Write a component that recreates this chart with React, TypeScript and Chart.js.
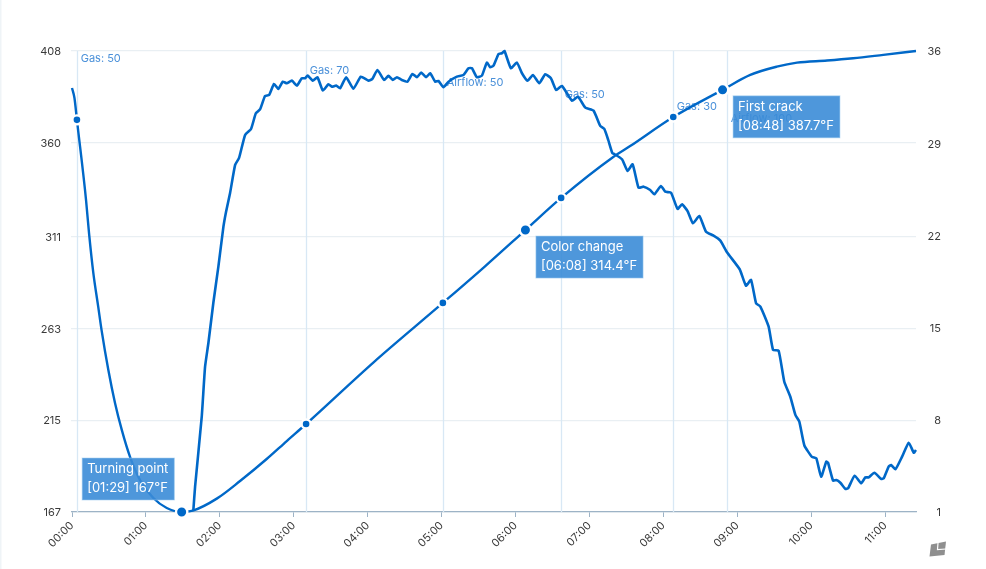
import React, { useEffect, useRef } from "react";
import { Chart, registerables } from "chart.js";

Chart.register(...registerables);

const FONT = "Inter";

const tempSeconds = [0, 2, 4, 11.4, 13.8, 17.3, 21.3, 24, 29.5, 34.9, 40.4, 47.1, 55.2, 66, 76.9, 89, 98, 117.5, 136.4, 158, 174.3, 190, 245, 301, 335, 368, 397, 439.3, 453, 488, 528, 550.5, 572, 588.4, 612.8, 634, 658.5, 685];
const tempValues = [388.7, 383.4, 372, 330.1, 312.9, 292, 274.2, 262.1, 241.2, 224, 209.9, 195.8, 183.7, 174.3, 169.1, 167, 167.7, 174, 183.2, 194.7, 204.1, 213, 245.4, 276.3, 295.3, 314.4, 331.2, 352.6, 358.3, 373.5, 387.7, 395.5, 399.8, 401.9, 403, 404.2, 406, 408];

const rorSeconds = [98.5, 99.9, 105.3, 108, 110.7, 114.7, 118.8, 122.9, 125, 128.3, 132.4, 135.6, 140.5, 145.3, 149.2, 152.7, 156.7, 160, 164, 167.5, 171.1, 174.3, 178.4, 182.5, 186.5, 189.2, 191.2, 195.4, 199.2, 203.6, 208.1, 210.9, 214.4, 217.6, 222.5, 228.4, 234.4, 240.6, 243.8, 247.9, 253.3, 256.8, 260.4, 263.7, 267.7, 272.3, 276.3, 279.9, 283.4, 287.4, 290.7, 294.8, 297.4, 301.5, 305.6, 312.4, 317.7, 321.8, 324.6, 328.6, 332.7, 336.7, 339.4, 342.1, 346.2, 348.9, 351, 356.2, 361.1, 365.2, 369.7, 374.1, 379.2, 384.1, 388.7, 393, 397.6, 405.8, 410.6, 416.6, 423.3, 428.7, 432, 435.2, 438.5, 440.1, 446.4, 450.9, 455, 459.8, 463.9, 469.3, 472.6, 478, 481.5, 486.2, 491.5, 495.1, 499.6, 504, 509.1, 514.6, 520.7, 526.2, 531.6, 541.9, 547, 551.1, 555.2, 558.7, 565.4, 569, 573.5, 578.1, 583, 587.1, 590.3, 594.4, 600.6, 604.1, 608, 612.2, 613.6, 617.7, 620.4, 623.6, 627.7, 629.9, 635.2, 640.4, 643.9, 646.6, 651.2, 656.7, 658.8, 662.8, 664.8, 668.3, 673.7, 679.1, 683.2, 685];
const rorValues = [1.15, 2.92, 8.24, 12.03, 13.83, 16.87, 19.63, 22.66, 23.78, 25.22, 27.35, 27.88, 29.63, 30.08, 31.27, 31.58, 32.59, 32.66, 33.5, 33.12, 33.67, 33.55, 33.75, 33.37, 33.93, 33.93, 34.14, 33.75, 34.01, 33, 33.48, 33.29, 33.37, 33.17, 34.01, 33.14, 34.05, 33.75, 33.88, 34.56, 33.8, 34.11, 33.8, 34.01, 33.8, 33.67, 34.26, 34.01, 34.36, 34.01, 34.31, 33.67, 33.73, 33.25, 33.67, 34.05, 34.18, 34.69, 34.69, 34.01, 34.13, 35.12, 34.77, 34.89, 35.78, 35.83, 36, 34.69, 35.12, 34.31, 33.75, 34.18, 33.55, 34.23, 33.93, 33.04, 33.35, 32.23, 32.53, 31.7, 31.47, 30.31, 30.08, 29.25, 28.26, 28.18, 27.78, 26.89, 27.4, 25.62, 25.7, 25.45, 25.12, 25.75, 25.32, 25.24, 24.01, 24.36, 23.85, 22.92, 23.48, 22.28, 21.98, 21.6, 20.72, 19.43, 18.18, 18.62, 16.85, 16.6, 15.07, 13.3, 13.25, 10.89, 9.75, 8.37, 7.86, 6.05, 5.18, 5.08, 3.68, 4.82, 4.74, 3.38, 3.43, 3.22, 2.75, 2.8, 3.76, 3.18, 3.63, 3.63, 3.98, 3.51, 3.56, 4.44, 4.57, 4.24, 5.2, 6.26, 5.5, 5.71];

const tempTicks = [167, 215, 263, 311, 360, 408];
const rorTicks = [1, 8, 15, 22, 29, 36];
const timeTicks = [0, 60, 120, 180, 240, 300, 360, 420, 480, 540, 600, 660];

const eventSeconds = [4, 190, 301, 397, 488, 531.2];
const eventLabels = ["Gas: 50", "Gas: 70", "Airflow: 50", "Gas: 50", "Gas: 30", "Airflow: 100"];

const smallMarkSeconds = [4, 190, 301, 397, 488];
const noteSeconds = [89, 368, 528];
const noteTemps = [167, 314.4, 387.7];
const noteTitles = ["Turning point", "Color change", "First crack"];
const noteDetails = ["[01:29] 167°F", "[06:08] 314.4°F", "[08:48] 387.7°F"];

const LINE = "#0068c8";
const LABEL = "#4a90d9";
const TICK = "#3a3a3a";

const fmt = (s: number) => {
  const m = Math.floor(s / 60);
  const r = Math.round(s % 60);
  return `${String(m).padStart(2, "0")}:${String(r).padStart(2, "0")}`;
};

const nudgeLabels = {
  id: "nudgeLabels",
  afterLayout(chart: any) {
    ["temp", "ror"].forEach((id) => {
      const scale = chart.scales[id];
      if (scale.__nudged) return;
      scale.__nudged = true;
      const draw = scale.drawLabels.bind(scale);
      scale.drawLabels = (area: any) => {
        chart.ctx.save();
        chart.ctx.translate(0, 1);
        draw(area);
        chart.ctx.restore();
      };
    });
  },
};

const backdrop = {
  id: "backdrop",
  beforeDatasetsDraw(chart: any) {
    const { ctx, chartArea: a, scales } = chart;
    ctx.save();
    ctx.fillStyle = "#eff4f7";
    ctx.fillRect(0, 0, 1.5, 569);
    eventSeconds.forEach((s, i) => {
      const x = Math.round(scales.x.getPixelForValue(s)) + 0.5;
      ctx.strokeStyle = "#d8e8f5";
      ctx.lineWidth = 1.3;
      ctx.beginPath();
      ctx.moveTo(x, a.top);
      ctx.lineTo(x, a.bottom);
      ctx.stroke();
      ctx.fillStyle = LABEL;
      ctx.font = `11px ${FONT}`;
      ctx.textAlign = "left";
      ctx.textBaseline = "middle";
      ctx.fillText(eventLabels[i], x + 3.2, a.top + 8 + i * 12);
    });
    ctx.restore();
  },
};

const notes = {
  id: "notes",
  afterDatasetsDraw(chart: any) {
    const { ctx, scales } = chart;
    ctx.save();
    noteSeconds.forEach((s, i) => {
      const px = scales.x.getPixelForValue(s);
      const py = scales.temp.getPixelForValue(noteTemps[i]);
      ctx.font = `13px ${FONT}`;
      const w = Math.max(ctx.measureText(noteTitles[i]).width, ctx.measureText(noteDetails[i]).width) + 11;
      const h = 42;
      const left = i === 0 ? px - 99.5 : px + 10.5;
      const top = i === 0 ? py - 54 : py + 6;
      ctx.fillStyle = "rgba(59,140,215,0.9)";
      ctx.fillRect(left, top, w, h);
      ctx.strokeStyle = "rgba(160,205,240,0.55)";
      ctx.lineWidth = 1;
      ctx.strokeRect(left, top, w, h);
      ctx.fillStyle = "#ffffff";
      ctx.textAlign = "left";
      ctx.textBaseline = "middle";
      ctx.fillText(noteTitles[i], left + 5, top + 11.5);
      ctx.fillText(noteDetails[i], left + 5, top + 30);
    });
    // maker's mark, bottom right
    ctx.fillStyle = "#8f8f8f";
    ctx.beginPath();
    ctx.moveTo(929.5, 556.5);
    ctx.lineTo(931, 544.5);
    ctx.lineTo(946, 541.5);
    ctx.lineTo(944.5, 555);
    ctx.closePath();
    ctx.fill();
    ctx.strokeStyle = "#ffffff";
    ctx.lineWidth = 1.2;
    ctx.beginPath();
    ctx.moveTo(938, 543);
    ctx.lineTo(937.5, 549.5);
    ctx.lineTo(946, 549);
    ctx.stroke();
    ctx.restore();
  },
};

export default function App() {
  const ref = useRef<HTMLCanvasElement>(null);
  useEffect(() => {
    const fixWidth = (w: number) => (scale: any) => {
      scale.width = w;
    };
    const chart = new Chart(ref.current as HTMLCanvasElement, {
      type: "line",
      data: {
        datasets: [
          {
            label: "Temperature",
            data: tempSeconds.map((x, i) => ({ x, y: tempValues[i] })),
            yAxisID: "temp",
            borderColor: LINE,
            borderWidth: 2.4,
            cubicInterpolationMode: "monotone",
            clip: false,
            pointBackgroundColor: LINE,
            pointBorderColor: "#ffffff",
            pointBorderWidth: 2.4,
            pointRadius: (c: any) => {
              const s = c.parsed?.x;
              if (noteSeconds.includes(s)) return 5.7;
              return smallMarkSeconds.includes(s) ? 4.5 : 0;
            },
          },
          {
            label: "Rate of rise",
            data: rorSeconds.map((x, i) => ({ x, y: rorValues[i] })),
            yAxisID: "ror",
            borderColor: LINE,
            borderWidth: 2.6,
            tension: 0.15,
            clip: false,
            pointRadius: 0,
          },
        ],
      },
      options: {
        animation: false,
        responsive: false,
        events: [],
        layout: { padding: { top: 51, left: 0, right: 45, bottom: 0 } },
        plugins: { legend: { display: false }, tooltip: { enabled: false } },
        scales: {
          x: {
            type: "linear",
            min: 0,
            max: 685,
            afterFit: (scale: any) => {
              scale.height = 57;
            },
            afterBuildTicks: (scale: any) => {
              scale.ticks = timeTicks.map((value) => ({ value }));
            },
            grid: { drawOnChartArea: false, color: "#9db3c6", tickLength: 5 },
            border: { color: "#9db3c6", width: 1.2 },
            ticks: {
              minRotation: 45,
              maxRotation: 45,
              autoSkip: false,
              padding: 2,
              color: TICK,
              font: { family: FONT, size: 11 },
              callback: (v: any) => fmt(Number(v)),
            },
          },
          temp: {
            position: "left",
            min: 167,
            max: 408,
            afterFit: fixWidth(72),
            afterBuildTicks: (scale: any) => {
              scale.ticks = tempTicks.map((value) => ({ value }));
            },
            grid: { color: "#e9eff3", tickLength: 1, lineWidth: 1.3 },
            border: { display: false },
            ticks: { padding: 10, color: TICK, font: { family: FONT, size: 11 } },
          },
          ror: {
            position: "right",
            min: 1,
            max: 36,
            afterFit: fixWidth(25),
            afterBuildTicks: (scale: any) => {
              scale.ticks = rorTicks.map((value) => ({ value }));
            },
            grid: { drawOnChartArea: false, drawTicks: false },
            border: { display: false },
            ticks: { padding: 12, crossAlign: "far", color: TICK, font: { family: FONT, size: 11 } },
          },
        },
      },
      plugins: [nudgeLabels, backdrop, notes],
    } as any);
    return () => chart.destroy();
  }, []);
  return (
    <canvas
      ref={ref}
      width={986}
      height={569}
      style={{ position: "fixed", left: 0, top: 0, width: 986, height: 569, display: "block", background: "#ffffff" }}
    />
  );
}
